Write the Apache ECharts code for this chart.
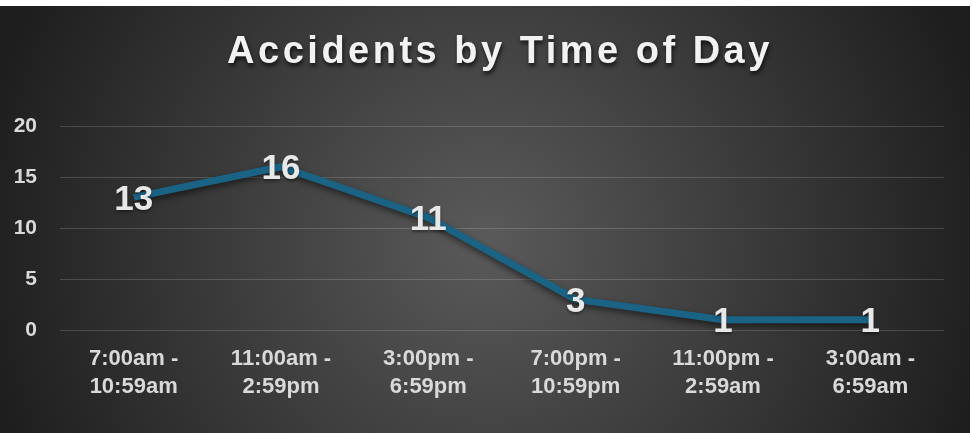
<!DOCTYPE html>
<html>
<head>
<meta charset="utf-8">
<script src="https://cdn.jsdelivr.net/npm/echarts@6/dist/echarts.min.js"></script>
<style>
    html, body { margin: 0; padding: 0; background: #ffffff; overflow: hidden; }
    #chart { position: absolute; left: 0; top: 6px; width: 970px; height: 427px; }
    /* title drawn as text with letter spacing, zrender has no letterSpacing */
    #title {
        position: absolute;
        left: 12px;
        top: 31px;
        width: 972px;
        padding-left: 4px;
        box-sizing: border-box;
        text-align: center;
        font-family: 'Liberation Sans', Arial, sans-serif;
        font-weight: bold;
        font-size: 38px;
        line-height: 38px;
        letter-spacing: 3.5px;
        color: #f2f2f2;
        text-shadow: 1px 3px 4px rgba(0, 0, 0, 0.7);
        pointer-events: none;
    }
</style>
</head>
<body>
<div id="chart"></div>
<div id="title"></div>
<script>
// data
const titleText = 'Accidents by Time of Day';
const timeSlots = [
    '7:00am -\n10:59am',
    '11:00am -\n2:59pm',
    '3:00pm -\n6:59pm',
    '7:00pm -\n10:59pm',
    '11:00pm -\n2:59am',
    '3:00am -\n6:59am'
];
const accidents = [13, 16, 11, 3, 1, 1];
const yTicks = [0, 20, 5]; // min, max, interval

document.getElementById('title').textContent = titleText;

const chart = echarts.init(document.getElementById('chart'));

const option = {
    backgroundColor: {
        type: 'radial',
        x: 0.5,
        y: 0.55,
        r: 1.2,
        colorStops: [
            { offset: 0, color: '#5a5a5a' },
            { offset: 1, color: '#1e1e1e' }
        ]
    },
    grid: {
        left: 60,
        right: 26,
        top: 120,
        bottom: 103
    },
    xAxis: {
        type: 'category',
        data: timeSlots,
        boundaryGap: true,
        axisLine: { show: false },
        axisTick: { show: false },
        axisLabel: {
            color: '#d9d9d9',
            fontFamily: 'Liberation Sans',
            fontWeight: 'bold',
            fontSize: 22,
            lineHeight: 28,
            margin: 15
        }
    },
    yAxis: {
        type: 'value',
        min: yTicks[0],
        max: yTicks[1],
        interval: yTicks[2],
        axisLine: { show: false },
        axisTick: { show: false },
        splitLine: { lineStyle: { color: 'rgba(255,255,255,0.16)', width: 1 } },
        axisLabel: {
            color: '#d9d9d9',
            fontFamily: 'Liberation Sans',
            fontWeight: 'bold',
            fontSize: 21,
            margin: 23
        }
    },
    series: [
        {
            type: 'line',
            data: accidents,
            showSymbol: true,
            symbol: 'circle',
            symbolSize: 1,
            itemStyle: { color: 'rgba(0,0,0,0)' },
            lineStyle: {
                color: '#1a6385',
                width: 7,
                shadowColor: 'rgba(0,0,0,0.55)',
                shadowBlur: 6,
                shadowOffsetY: 3
            },
            label: {
                show: true,
                position: 'inside',
                offset: [0, 3],
                color: '#e8e8e8',
                fontFamily: 'Liberation Sans',
                fontWeight: 'bold',
                fontSize: 35,
                textShadowColor: 'rgba(0,0,0,0.4)',
                textShadowBlur: 3,
                textShadowOffsetY: 2
            },
            emphasis: { disabled: true }
        }
    ]
};

chart.setOption(option);
</script>
</body>
</html>
